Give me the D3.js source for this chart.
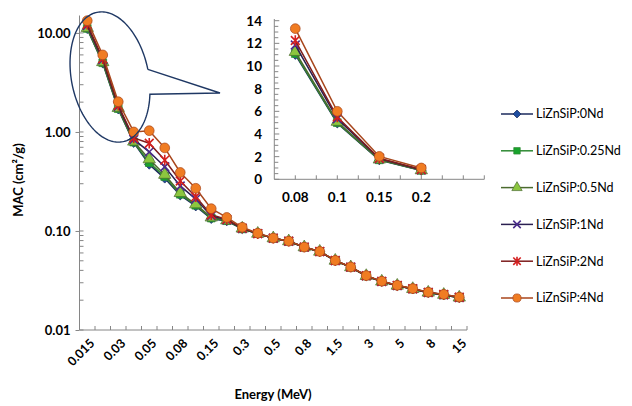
<!DOCTYPE html>
<html>
<head>
<meta charset="utf-8">
<script src="https://d3js.org/d3.v7.min.js"></script>
<style>
  body { margin: 0; background: #fff; }
  text { font-family: Lato, "Open Sans", sans-serif; fill: #000; }
  .bold { font-weight: bold; }
</style>
</head>
<body>
<script>
// energies (MeV) - categories of the main chart
var energies = ["0.015","0.02","0.03","0.04","0.05","0.06","0.08","0.1","0.15","0.2",
                "0.3","0.4","0.5","0.6","0.8","1","1.5","2","3","4","5","6","8","10","15"];

// MAC values (cm2/g)
var nd0   = [11.0, 4.95, 1.70, 0.78, 0.47, 0.34, 0.230, 0.178, 0.133, 0.126,
             0.105, 0.094, 0.0844, 0.0787, 0.0685, 0.0618, 0.0501, 0.0430, 0.0351, 0.0308, 0.0280, 0.0259, 0.0238, 0.0226, 0.0212];
var nd025 = [11.1, 5.00, 1.72, 0.79, 0.49, 0.355, 0.235, 0.182, 0.135, 0.127,
             0.105, 0.094, 0.0844, 0.0787, 0.0685, 0.0618, 0.0501, 0.0430, 0.0351, 0.0308, 0.0280, 0.0259, 0.0238, 0.0226, 0.0212];
var nd05  = [11.25, 5.08, 1.75, 0.80, 0.53, 0.37, 0.242, 0.186, 0.137, 0.128,
             0.106, 0.094, 0.0845, 0.0788, 0.0686, 0.0619, 0.0502, 0.0431, 0.0352, 0.0309, 0.0281, 0.0260, 0.0239, 0.0227, 0.0213];
var nd1   = [11.85, 5.35, 1.82, 0.84, 0.63, 0.445, 0.285, 0.210, 0.142, 0.130,
             0.106, 0.094, 0.0845, 0.0788, 0.0686, 0.0619, 0.0502, 0.0431, 0.0352, 0.0309, 0.0281, 0.0260, 0.0239, 0.0227, 0.0213];
var nd2   = [12.25, 5.50, 1.86, 0.87, 0.77, 0.52, 0.320, 0.222, 0.146, 0.131,
             0.107, 0.094, 0.0846, 0.0789, 0.0687, 0.0620, 0.0503, 0.0432, 0.0353, 0.0310, 0.0282, 0.0261, 0.0240, 0.0228, 0.0214];
var nd4   = [13.3, 6.00, 2.02, 1.00, 1.03, 0.69, 0.390, 0.270, 0.168, 0.137,
             0.109, 0.095, 0.0848, 0.0790, 0.0688, 0.0621, 0.0504, 0.0433, 0.0354, 0.0311, 0.0283, 0.0262, 0.0241, 0.0229, 0.0215];

var seriesNames = ["LiZnSiP:0Nd","LiZnSiP:0.25Nd","LiZnSiP:0.5Nd","LiZnSiP:1Nd","LiZnSiP:2Nd","LiZnSiP:4Nd"];
var lineColors   = ["#1b2a5c","#2f8a34","#4b6b2e","#2a1f50","#7d1d1d","#a8461c"];
var markerFills  = ["#1f4ea0","#18a32c","#8cc63f","#4a2c8c","#d41f1f","#f07c22"];
var markerTypes  = ["diamond","square","triangle","x","star","circle"];

var yTicks = [0.01, 0.1, 1, 10];
var xLabelsShown = energies.filter(function(d, i) { return i % 2 == 0; });

// inset (zoom of first four points, labels as in the original)
var insetLabels = ["0.08","0.1","0.15","0.2",""];
var insetYTicks = [0,2,4,6,8,10,12,14];

var allSeries = [nd0, nd025, nd05, nd1, nd2, nd4];

var width = 632, height = 406;

var svg = d3.select("body").append("svg")
    .attr("width", width)
    .attr("height", height);

svg.append("rect").attr("width", width).attr("height", height).attr("fill", "#fff");

var xScale = d3.scaleBand().domain(energies).range([79.5, 467]);
var yScale = d3.scaleLog().domain([0.01, 15]).range([330, 15.5]);

var axisColor = "#868686";

var symbolPath = function(type, size) {
    if (type == "diamond") return d3.symbol().type(d3.symbolSquare).size(size * 0.75)();
    if (type == "square") return d3.symbol().type(d3.symbolSquare).size(size)();
    if (type == "triangle") return d3.symbol().type(d3.symbolTriangle).size(size * 1.1)();
    if (type == "circle") return d3.symbol().type(d3.symbolCircle).size(size * 1.25)();
    var r = Math.sqrt(size) / 2 + 0.5;
    if (type == "x") return "M" + (-r) + "," + (-r) + "L" + r + "," + r + "M" + (-r) + "," + r + "L" + r + "," + (-r);
    // star = x plus vertical bar
    return "M" + (-r) + "," + (-r) + "L" + r + "," + r + "M" + (-r) + "," + r + "L" + r + "," + (-r) +
           "M0," + (-r * 1.2) + "L0," + (r * 1.2);
};

var drawMarker = function(g, k, size) {
    var t = markerTypes[k];
    var p = g.append("path").attr("d", symbolPath(t, size));
    if (t == "diamond") p.attr("transform", "rotate(45)");
    if (t == "x" || t == "star") {
        p.attr("fill", "none").attr("stroke", markerFills[k]).attr("stroke-width", 1.6);
    } else {
        p.attr("fill", markerFills[k]).attr("stroke", lineColors[k]).attr("stroke-width", 0.7);
    }
    return p;
};

var drawSeries = function(parent, values, k, xf, yf, size) {
    var line = d3.line()
        .x(function(d, i) { return xf(i); })
        .y(function(d) { return yf(d); });
    var g = parent.append("g");
    g.append("path")
        .datum(values)
        .attr("d", line)
        .attr("fill", "none")
        .attr("stroke", lineColors[k])
        .attr("stroke-width", 1.5);
    values.forEach(function(v, i) {
        var m = g.append("g").attr("transform", "translate(" + xf(i) + "," + yf(v) + ")");
        drawMarker(m, k, size);
    });
};

// ---- main chart axes ----
var main = svg.append("g");

// y axis
var yAxis = d3.axisLeft(yScale).tickValues(yTicks).tickFormat(d3.format(".2f")).tickSize(4).tickSizeOuter(0);
var yg = main.append("g").attr("transform", "translate(79.5,0)").call(yAxis);
yg.select(".domain").attr("stroke", axisColor).attr("d", "M0,330V15.5");
yg.selectAll(".tick line").attr("stroke", axisColor);
yg.selectAll(".tick text").attr("x", -9)
    .style("font-size", "13px")
    .style("font-family", "Lato, sans-serif").style("font-weight", "bold");

var minors = [];
[0.01, 0.1, 1, 10].forEach(function(dec) {
    for (var m = 2; m <= 9; m++) if (dec * m <= 15) minors.push(dec * m);
});
main.append("g").selectAll("line").data(minors.concat(yTicks)).enter().append("line")
    .attr("x1", 79.5).attr("x2", 83.5)
    .attr("y1", function(d) { return yScale(d); })
    .attr("y2", function(d) { return yScale(d); })
    .attr("stroke", axisColor);

// x axis
main.append("line").attr("x1", 79.5).attr("x2", 467).attr("y1", 330).attr("y2", 330).attr("stroke", axisColor);
main.append("g").selectAll("line").data(d3.range(energies.length + 1)).enter().append("line")
    .attr("x1", function(i) { return xScale.range()[0] + i * xScale.step(); })
    .attr("x2", function(i) { return xScale.range()[0] + i * xScale.step(); })
    .attr("y1", 330).attr("y2", 326)
    .attr("stroke", axisColor);

main.append("g").selectAll("text").data(xLabelsShown).enter().append("text")
    .attr("class", "bold")
    .attr("transform", function(d) {
        return "translate(" + (xScale(d) + xScale.bandwidth() / 2 + 5) + ",341) rotate(-45)";
    })
    .attr("text-anchor", "end")
    .attr("dy", "0.35em")
    .style("font-size", "12.5px")
    .text(function(d) { return d; });

// axis titles
svg.append("text").attr("class", "bold")
    .attr("x", 273).attr("y", 399)
    .attr("text-anchor", "middle")
    .style("font-size", "13px")
    .text("Energy (MeV)");

svg.append("text").attr("class", "bold")
    .attr("transform", "translate(23,180) rotate(-90)")
    .attr("text-anchor", "middle")
    .style("font-size", "13px")
    .text("MAC (cm²/g)");

// main series
var mx = function(i) { return xScale(energies[i]) + xScale.bandwidth() / 2; };
allSeries.forEach(function(vals, k) {
    drawSeries(main, vals, k, mx, yScale, 60);
});

// ---- callout ellipse ----
var cx = 110, cy = 77, ea = 66, eb = 38.6;
var ux = 0.196, uy = 0.98, vx = 0.98, vy = -0.196;
var ellPt = function(tDeg) {
    var t = tDeg * Math.PI / 180;
    return [cx + ea * Math.cos(t) * ux + eb * Math.sin(t) * vx,
            cy + ea * Math.cos(t) * uy + eb * Math.sin(t) * vy];
};
var calloutPts = d3.range(90, 428.5, 2).map(ellPt);
calloutPts.push([220, 93]);
calloutPts.push(ellPt(90));
svg.append("path")
    .attr("d", d3.line()(calloutPts))
    .attr("fill", "none")
    .attr("stroke", "#1f3864")
    .attr("stroke-width", 1.4);

// ---- inset ----
var ix = d3.scaleBand().domain(insetLabels.map(function(d, i) { return i; })).range([274.3, 484.3]);
var iy = d3.scaleLinear().domain([0, 14]).range([179.3, 20.7]);
var inset = svg.append("g");

inset.append("line").attr("x1", 274.3).attr("x2", 274.3).attr("y1", 179.3).attr("y2", 19).attr("stroke", axisColor);
inset.append("line").attr("x1", 274.3).attr("x2", 484.3).attr("y1", 179.3).attr("y2", 179.3).attr("stroke", axisColor);

var iMinor = d3.range(0, 14.01, 0.5);
inset.append("g").selectAll("line").data(iMinor).enter().append("line")
    .attr("x1", 274.3).attr("x2", function(d) { return d % 2 == 0 ? 279.3 : 278.3; })
    .attr("y1", function(d) { return iy(d); })
    .attr("y2", function(d) { return iy(d); })
    .attr("stroke", axisColor);

inset.append("g").selectAll("line").data(d3.range(1, insetLabels.length * 2 + 1)).enter().append("line")
    .attr("x1", function(i) { return ix.range()[0] + i * ix.step() / 2; })
    .attr("x2", function(i) { return ix.range()[0] + i * ix.step() / 2; })
    .attr("y1", 179.3).attr("y2", 175.3)
    .attr("stroke", axisColor);

inset.append("g").selectAll("text").data(insetYTicks).enter().append("text")
    .attr("class", "bold")
    .attr("x", 262).attr("y", function(d) { return iy(d); })
    .attr("dy", "0.36em")
    .attr("text-anchor", "end")
    .style("font-size", "13.5px")
    .text(function(d) { return d; });

inset.append("g").selectAll("text").data(insetLabels).enter().append("text")
    .attr("class", "bold")
    .attr("x", function(d, i) { return ix(i) + ix.bandwidth() / 2; })
    .attr("y", 202)
    .attr("text-anchor", "middle")
    .style("font-size", "13.5px")
    .text(function(d) { return d; });

var ixf = function(i) { return ix(i) + ix.bandwidth() / 2; };
allSeries.forEach(function(vals, k) {
    drawSeries(inset, vals.slice(0, 4), k, ixf, iy, 60);
});

// ---- legend ----
var legend = svg.append("g");
seriesNames.forEach(function(name, k) {
    var yy = 114 + k * 36.8;
    var g = legend.append("g").attr("transform", "translate(0," + yy + ")");
    g.append("line").attr("x1", 501).attr("x2", 533).attr("y1", 0).attr("y2", 0)
        .attr("stroke", lineColors[k]).attr("stroke-width", 1.5);
    var m = g.append("g").attr("transform", "translate(517,0)");
    drawMarker(m, k, 42);
    g.append("text").attr("x", 536).attr("y", 0).attr("dy", "0.35em")
        .style("font-size", "12.5px")
        .text(name);
});
</script>
</body>
</html>
